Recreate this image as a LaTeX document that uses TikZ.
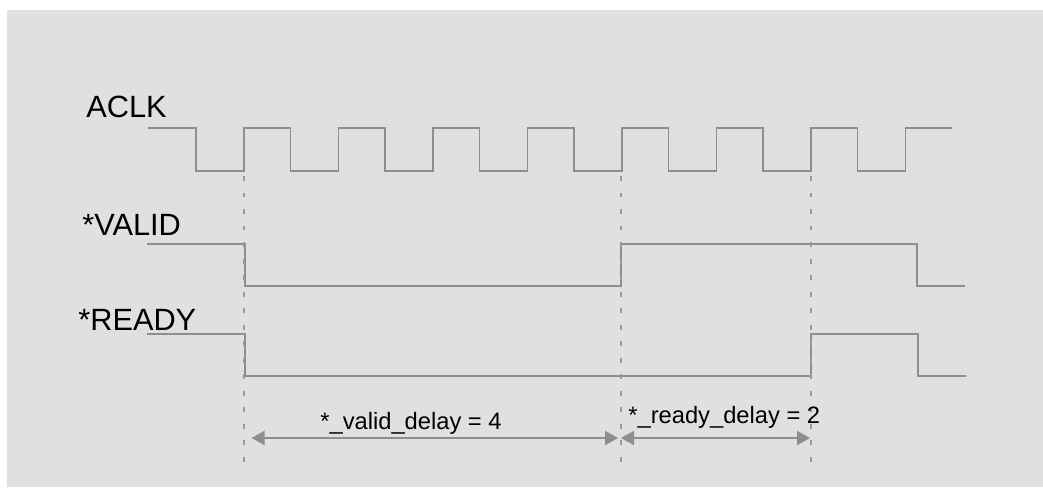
\documentclass[tikz,border=0pt]{standalone}
\usepackage{fontspec}
\setmainfont{Liberation Sans}
\usetikzlibrary{arrows.meta}
\definecolor{bgray}{HTML}{E0E0E0}
\definecolor{wave}{HTML}{8E8E8E}
\definecolor{guide}{HTML}{9A9A9A}

\begin{document}
\begin{tikzpicture}[x=0.02cm,y=-0.02cm,
  sig/.style={draw=wave,line width=1.1pt},
  lbl/.style={anchor=base west,inner sep=0pt,font=\fontsize{17.5}{20}\selectfont},
  dlbl/.style={anchor=base west,inner sep=0pt,font=\fontsize{13.5}{16}\selectfont},
  guideline/.style={draw=guide,line width=0.6pt,dash pattern=on 2.8pt off 6.6pt},
  dly/.style={{Triangle[length=7.4pt,width=8pt]}-{Triangle[length=7.4pt,width=8pt]},draw=wave,fill=wave,line width=1.1pt}]
  \useasboundingbox (0,0) rectangle (1043,487);
  \fill[bgray] (7,10) rectangle (1043,487);
  % signal names
  \node[lbl] (aclk) at (86,117) {ACLK};
  \node[lbl] (valid) at (82,235) {*VALID};
  \node[lbl] (ready) at (78,330) {*READY};
  % clock
  \draw[sig] (148,128) \foreach \k in {0,...,7} {
    -- ({196+94.5*\k},128) -- ({196+94.5*\k},171)
    -- ({244+94.5*\k},171) -- ({244+94.5*\k},128)} -- (952,128);
  % valid / ready
  \draw[sig] (147,244) -- (245,244) -- (245,286) -- (621,286) -- (621,244)
    -- (917,244) -- (917,286) -- (965,286);
  \draw[sig] (147,334) -- (245,334) -- (245,376) -- (811,376) -- (811,334)
    -- (918,334) -- (918,376) -- (966,376);
  % guides
  \foreach \n/\x in {g1/244,g2/621,g3/811} {
    \coordinate (\n top) at (\x,176);
    \coordinate (\n bot) at (\x,466);
    \draw[guideline] (\n top) -- (\n bot);
  }
  % delays
  \coordinate (va) at (251.5,438); \coordinate (vb) at (618,438);
  \coordinate (ra) at (621,438); \coordinate (rb) at (810,438);
  \draw[dly] (va) -- (vb);
  \draw[dly] (ra) -- (rb);
  \node[dlbl] (vdelay) at (320,429) {*\_valid\_delay = 4};
  \node[dlbl] (rdelay) at (628,423) {*\_ready\_delay = 2};
\end{tikzpicture}
\end{document}
